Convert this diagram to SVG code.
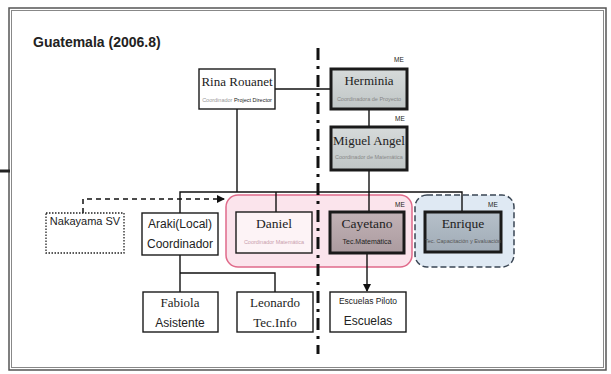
<svg xmlns="http://www.w3.org/2000/svg" width="611" height="374" viewBox="0 0 611 374">
<style>
.serif{font-family:"Liberation Serif","Times New Roman",serif;fill:#222}
.sans{font-family:"Liberation Sans",Arial,sans-serif;fill:#222}
.name{font-size:13px}
.tiny{font-size:5.5px;fill:#888}
.me{font-family:"Liberation Sans",Arial,sans-serif;font-size:6.5px;fill:#222}
.box{fill:#fff;stroke:#1a1a1a;stroke-width:1.4}
.thick{stroke:#1a1a1a;stroke-width:3}
.ln{fill:none;stroke:#111;stroke-width:1.4}
</style>
<defs>
<linearGradient id="gGray" x1="0" y1="0" x2="0" y2="1">
<stop offset="0" stop-color="#d6dada"/><stop offset="1" stop-color="#c0c6c6"/>
</linearGradient>
<linearGradient id="gMauve" x1="0" y1="0" x2="0" y2="1">
<stop offset="0" stop-color="#c2b2b6"/><stop offset="1" stop-color="#ab9b9f"/>
</linearGradient>
<linearGradient id="gBlue" x1="0" y1="0" x2="0" y2="1">
<stop offset="0" stop-color="#b6c0ca"/><stop offset="1" stop-color="#a0abb6"/>
</linearGradient>
<marker id="arr" markerWidth="8" markerHeight="8" refX="7" refY="4" orient="auto" markerUnits="userSpaceOnUse">
<path d="M0,0 L8,4 L0,8 Z" fill="#111"/>
</marker>
</defs>
<rect width="611" height="374" fill="#fff"/>
<!-- frame -->
<rect x="9" y="8" width="597" height="362" fill="none" stroke="#555" stroke-width="1.5"/>
<rect x="11.5" y="10.5" width="592" height="357" fill="none" stroke="#888" stroke-width="1"/>
<rect x="0" y="169.5" width="10" height="3" fill="#222"/>
<text x="33" y="47" class="sans" style="font-size:14px;font-weight:bold">Guatemala (2006.8)</text>

<!-- group backgrounds -->
<g id="group-pink">
<rect x="226" y="195" width="186" height="72" rx="12" fill="#fbe4ec" stroke="#e06a8a" stroke-width="1.5"/>
<text x="395" y="207" class="me">ME</text>
</g>
<g id="group-blue">
<rect x="415" y="195" width="99" height="72" rx="12" fill="#dfe9f3" stroke="#3a4654" stroke-width="1.5" stroke-dasharray="6,3"/>
<text x="488" y="207" class="me">ME</text>
</g>

<!-- divider -->
<line x1="318" y1="48" x2="318" y2="354" stroke="#111" stroke-width="3" stroke-dasharray="12,6,3,6"/>

<g id="connectors">
<line class="ln" x1="275" y1="89" x2="331" y2="89"/>
<line class="ln" x1="369" y1="109" x2="369" y2="127"/>
<line class="ln" x1="237" y1="109" x2="237" y2="192"/>
<polyline class="ln" points="180,213 180,192 462,192 462,212"/>
<line class="ln" x1="276" y1="192" x2="276" y2="212"/>
<line class="ln" x1="369" y1="170" x2="369" y2="212"/>
<polyline class="ln" points="180,255 180,292"/>
<polyline class="ln" points="180,273 275,273 275,292"/>
<line class="ln" x1="367" y1="253" x2="367" y2="291" marker-end="url(#arr)"/>
<polyline points="83,213 83,199 224,199" fill="none" stroke="#111" stroke-width="1.5" stroke-dasharray="5,4" marker-end="url(#arr)"/>
</g>

<g id="rina">
<rect class="box" x="199" y="69" width="76" height="40"/>
<text x="237" y="86" class="serif name" text-anchor="middle">Rina Rouanet</text>
<text x="237" y="102" class="sans" style="font-size:5.5px" text-anchor="middle"><tspan fill="#999">Coordinador </tspan><tspan fill="#222">Project Director</tspan></text>
</g>
<g id="herminia">
<text x="394" y="62" class="me">ME</text>
<rect class="thick" x="331" y="69" width="76" height="40" fill="url(#gGray)"/>
<text x="369" y="85" class="serif name" text-anchor="middle">Herminia</text>
<text x="369" y="101" class="sans tiny" text-anchor="middle">Coordinadora de Proyecto</text>
</g>
<g id="miguel">
<text x="395" y="121" class="me">ME</text>
<rect class="thick" x="331" y="127" width="76" height="43" fill="url(#gGray)"/>
<text x="369" y="145" class="serif name" text-anchor="middle">Miguel Angel</text>
<text x="369" y="159" class="sans tiny" text-anchor="middle">Coordinador de Matemática</text>
</g>
<g id="nakayama">
<rect x="46" y="213" width="78" height="40" fill="#fff" stroke="#222" stroke-width="1.3" stroke-dasharray="1.5,1.5"/>
<text x="85" y="225" class="sans" style="font-size:11px" text-anchor="middle">Nakayama SV</text>
</g>
<g id="araki">
<rect class="box" x="142" y="213" width="76" height="42"/>
<text x="180" y="228" class="sans" style="font-size:12px" text-anchor="middle">Araki(Local)</text>
<text x="180" y="248" class="sans" style="font-size:12px" text-anchor="middle">Coordinador</text>
</g>
<g id="daniel">
<rect x="236" y="212" width="76" height="41" fill="#fdf3f6" stroke="#1a1a1a" stroke-width="1.4"/>
<text x="274" y="228" class="serif" style="font-size:13.5px" text-anchor="middle">Daniel</text>
<text x="274" y="244" class="sans tiny" style="fill:#c9a0ad" text-anchor="middle">Coordinador Matemática</text>
</g>
<g id="cayetano">
<rect class="thick" x="330" y="212" width="74" height="41" fill="url(#gMauve)"/>
<text x="367" y="228" class="serif" style="font-size:13.5px" text-anchor="middle">Cayetano</text>
<text x="367" y="244" class="sans" style="font-size:7px" text-anchor="middle">Tec.Matemática</text>
</g>
<g id="enrique">
<rect class="thick" x="425" y="212" width="76" height="40" fill="url(#gBlue)"/>
<text x="463" y="228" class="serif" style="font-size:13.5px" text-anchor="middle">Enrique</text>
<text x="463" y="243" class="sans tiny" style="fill:#555" text-anchor="middle">Tec. Capacitación y Evaluación</text>
</g>
<g id="fabiola">
<rect class="box" x="143" y="292" width="75" height="40"/>
<text x="180" y="307" class="serif name" text-anchor="middle">Fabiola</text>
<text x="180" y="327" class="sans" style="font-size:12px" text-anchor="middle">Asistente</text>
</g>
<g id="leonardo">
<rect class="box" x="237" y="292" width="76" height="40"/>
<text x="275" y="307" class="serif name" text-anchor="middle">Leonardo</text>
<text x="275" y="327" class="serif name" text-anchor="middle">Tec.Info</text>
</g>
<g id="escuelas">
<rect class="box" x="330" y="292" width="76" height="40"/>
<text x="368" y="304" class="sans" style="font-size:8.5px" text-anchor="middle">Escuelas Piloto</text>
<text x="368" y="325" class="sans" style="font-size:12px" text-anchor="middle">Escuelas</text>
</g>
</svg>
